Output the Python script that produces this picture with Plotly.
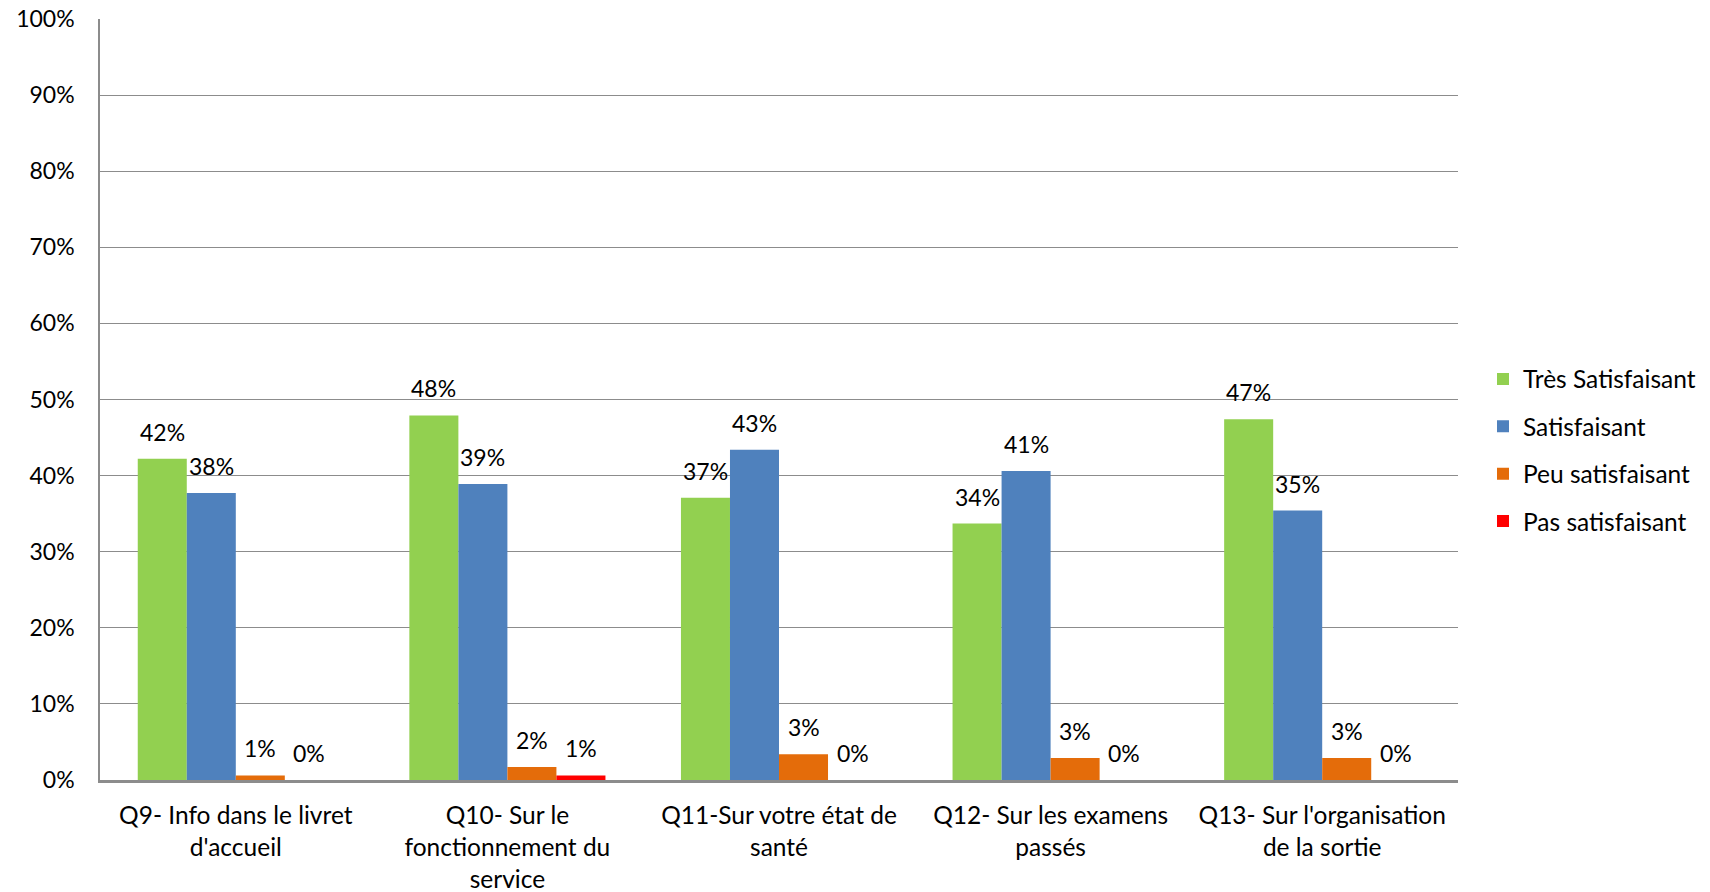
import plotly.graph_objects as go

categories = [
    "Q9- Info dans le livret<br>d'accueil",
    "Q10- Sur le<br>fonctionnement du<br>service",
    "Q11-Sur votre état de<br>santé",
    "Q12- Sur les examens<br>passés",
    "Q13- Sur l'organisation<br>de la sortie",
]
series_names = ["Très Satisfaisant", "Satisfaisant", "Peu satisfaisant", "Pas satisfaisant"]
tres_satisfaisant = [0.422, 0.479, 0.371, 0.337, 0.474]
satisfaisant = [0.377, 0.389, 0.434, 0.406, 0.354]
peu_satisfaisant = [0.006, 0.017, 0.034, 0.029, 0.029]
pas_satisfaisant = [0.0, 0.006, 0.0, 0.0, 0.0]
series_values = [tres_satisfaisant, satisfaisant, peu_satisfaisant, pas_satisfaisant]
colors = ["#92D050", "#4F81BD", "#E46C0A", "#FF0000"]

FONT = "Lato"
FS_NUM = 23
FS_TXT = 24.5
GRID = "#8C8C8C"
bargap = 0.278

fig = go.Figure()
for name, vals, col in zip(series_names, series_values, colors):
    fig.add_trace(go.Bar(
        x=categories, y=vals, name=name, legendgroup=name,
        marker=dict(color=col, line=dict(width=0)),
        hoverinfo="skip",
    ))

n = len(series_names)
bw = (1 - bargap) / n
annotations = []
for j, vals in enumerate(series_values):
    for i, v in enumerate(vals):
        annotations.append(dict(
            x=i + (j - (n - 1) / 2) * bw, y=v, xref="x", yref="y",
            text=f"{v:.0%}", showarrow=False, yanchor="middle", xanchor="center",
            yshift=27, font=dict(family=FONT, size=FS_NUM, color="#000000"),
        ))

fig.update_layout(
    width=1710, height=892,
    margin=dict(l=100, r=252, t=19, b=112, autoexpand=False),
    paper_bgcolor="white", plot_bgcolor="white",
    barmode="group", bargap=bargap, bargroupgap=0,
    font=dict(family=FONT, size=FS_NUM, color="#000000"),
    showlegend=True,
    legend=dict(
        x=(1501 - 100 - 18) / 1358, xanchor="left",
        y=(780 - 450) / 761, yanchor="middle",
        font=dict(family=FONT, size=FS_TXT, color="#000000"),
        tracegroupgap=12.5, bgcolor="rgba(0,0,0,0)",
    ),
    annotations=annotations,
)
fig.update_yaxes(
    range=[0, 1], dtick=0.1, tick0=0, tickformat=".0%",
    showgrid=True, gridcolor=GRID, gridwidth=1.3,
    showline=True, linecolor=GRID, linewidth=1.5,
    zeroline=False, ticks="", ticklabelstandoff=19,
    tickfont=dict(family=FONT, size=FS_NUM, color="#000000"),
)
fig.update_xaxes(
    showline=True, linecolor=GRID, linewidth=2.5,
    showgrid=False, ticks="", ticklabelstandoff=12,
    tickfont=dict(family=FONT, size=FS_TXT, color="#000000"),
    range=[-0.5, 4.5],
)

fig.write_html(
    "out.html",
    config={"displayModeBar": False},
    post_script="document.body.style.margin='0';document.body.style.overflow='hidden';",
)
